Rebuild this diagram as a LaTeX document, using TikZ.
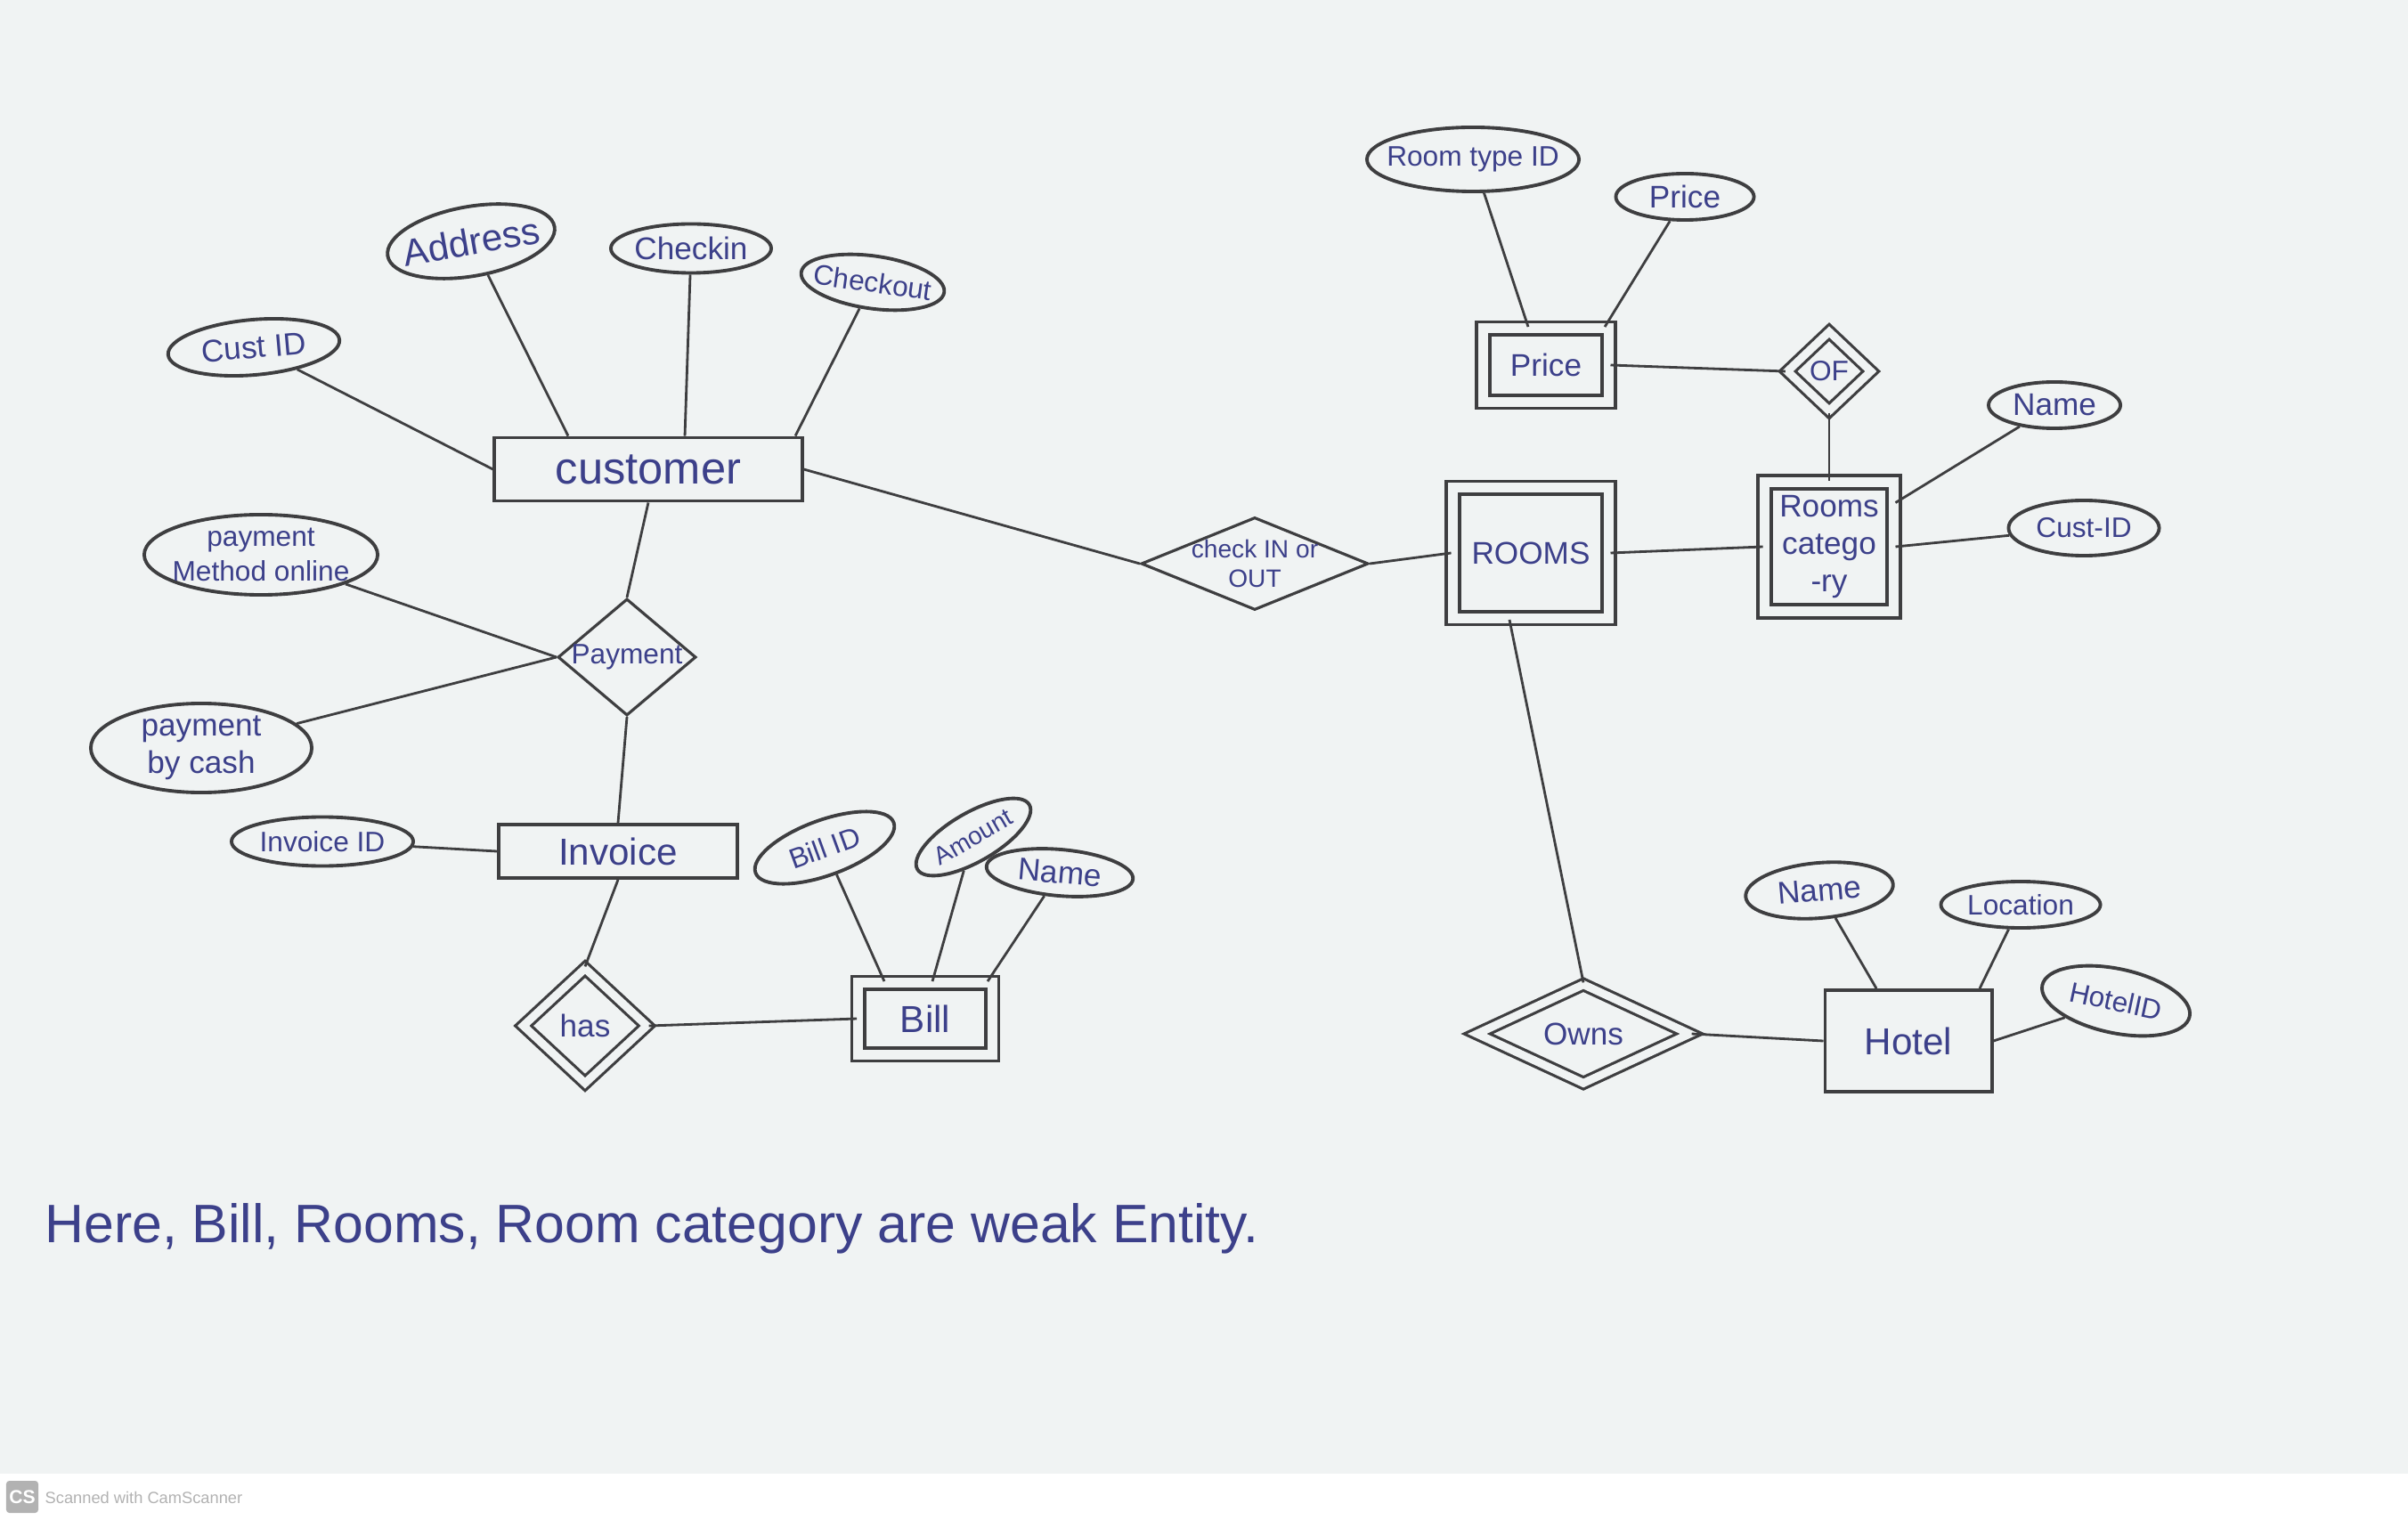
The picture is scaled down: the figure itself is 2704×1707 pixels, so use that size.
\documentclass[tikz,border=0pt]{standalone}
\usepackage{fontspec}
\setmainfont{Liberation Sans}
\usetikzlibrary{shapes.geometric}

\definecolor{paper}{RGB}{240,243,243}
\definecolor{pencil}{RGB}{62,62,64}
\definecolor{ink}{RGB}{60,64,138}
\definecolor{scanner}{RGB}{178,178,178}

\tikzset{
  entity/.style={draw=pencil,line width=1.1pt,rectangle,text=ink,font=\Large,inner sep=0pt,align=center},
  weakentity/.style={entity,double=paper,double distance=0.11cm},
  attr/.style={draw=pencil,line width=1.1pt,ellipse,text=ink,font=\normalsize,inner sep=-1.5cm,align=center},
  rel/.style={draw=pencil,line width=0.9pt,diamond,text=ink,font=\normalsize,inner sep=-2cm,align=center},
  weakrel/.style={rel,double=paper,double distance=0.09cm},
  link/.style={draw=pencil,line width=0.8pt}
}

\begin{document}
\begin{tikzpicture}[x=0.01cm,y=-0.01cm]
\useasboundingbox (0,0) rectangle (2704,1707);
\fill[paper] (0,0) rectangle (2704,1655);

% customer side
\node[entity,minimum width=3.45cm,minimum height=0.71cm] (customer) at (728,527) {customer};
\node[attr,minimum width=1.9cm,minimum height=0.78cm,rotate=10,font=\large] (address) at (529,271) {Address};
\node[attr,minimum width=1.8cm,minimum height=0.55cm] (checkin) at (776,279) {Checkin};
\node[attr,minimum width=1.62cm,minimum height=0.59cm,rotate=-8,font=\small] (checkout) at (980,317) {Checkout};
\node[attr,minimum width=1.93cm,minimum height=0.62cm,rotate=5] (custid) at (285,390) {Cust ID};

\node[rel,minimum width=1.55cm,minimum height=1.31cm,font=\small] (payment) at (704,738) {Payment};
\node[attr,minimum width=2.62cm,minimum height=0.9cm,font=\small] (pmonline) at (293,623) {payment\\Method online};
\node[attr,minimum width=2.48cm,minimum height=1.0cm] (pcash) at (226,840) {payment\\by cash};

\node[entity,minimum width=2.68cm,minimum height=0.6cm,font=\large] (invoice) at (694,956) {Invoice};
\node[attr,minimum width=2.04cm,minimum height=0.55cm,font=\small] (invoiceid) at (362,945) {Invoice ID};

\node[weakrel,minimum width=1.4cm,minimum height=1.3cm] (has) at (657,1152) {has};
\node[weakentity,minimum width=1.5cm,minimum height=0.8cm,font=\large] (bill) at (1039,1144) {Bill};
\node[attr,minimum width=1.65cm,minimum height=0.62cm,rotate=20,font=\small] (billid) at (926,952) {Bill ID};
\node[attr,minimum width=1.45cm,minimum height=0.55cm,rotate=30,font=\footnotesize] (amount) at (1093,940) {Amount};
\node[attr,minimum width=1.65cm,minimum height=0.52cm,rotate=-5] (billname) at (1190,980) {Name};

% rooms side
\node[rel,minimum width=2.55cm,minimum height=1.04cm,font=\footnotesize] (checkinout) at (1409,633) {check IN or\\OUT};
\node[weakentity,minimum width=1.75cm,minimum height=1.46cm,font=\normalsize] (rooms) at (1719,621) {ROOMS};
\node[weakentity,minimum width=1.45cm,minimum height=1.45cm,font=\normalsize] (roomcat) at (2054,614) {Rooms\\catego\\-ry};
\node[attr,minimum width=1.69cm,minimum height=0.62cm,font=\small] (custid2) at (2340,593) {Cust-ID};
\node[attr,minimum width=1.48cm,minimum height=0.52cm] (catname) at (2307,455) {Name};

\node[weakrel,minimum width=0.95cm,minimum height=0.9cm,font=\small] (of) at (2054,417) {OF};
\node[weakentity,minimum width=1.41cm,minimum height=0.82cm,font=\normalsize] (price) at (1736,410) {Price};
\node[attr,minimum width=2.38cm,minimum height=0.72cm,font=\small] (roomtypeid) at (1654,179) {Room type ID};
\node[attr,minimum width=1.55cm,minimum height=0.52cm] (priceattr) at (1892,221) {Price};

\node[weakrel,minimum width=2.4cm,minimum height=1.12cm] (owns) at (1778,1161) {Owns};
\node[entity,minimum width=1.87cm,minimum height=1.14cm,font=\large] (hotel) at (2143,1169) {Hotel};
\node[attr,minimum width=1.66cm,minimum height=0.62cm,rotate=5] (hotelname) at (2043,1000) {Name};
\node[attr,minimum width=1.79cm,minimum height=0.52cm,font=\small] (location) at (2269,1016) {Location};
\node[attr,minimum width=1.69cm,minimum height=0.72cm,rotate=-12,font=\small] (hotelid) at (2376,1124) {HotelID};

% connectors
\draw[link] (custid) -- (customer.west);
\draw[link] (address) -- ([xshift=-0.9cm]customer.north);
\draw[link] (checkin) -- ([xshift=0.41cm]customer.north);
\draw[link] (checkout) -- ([xshift=1.65cm]customer.north);
\draw[link] (customer.east) -- (checkinout.west);
\draw[link] (customer.south) -- (payment.north);
\draw[link] (pmonline) -- (payment.west);
\draw[link] (pcash) -- (payment.west);
\draw[link] (payment.south) -- (invoice.north);
\draw[link] (invoiceid) -- (invoice.west);
\draw[link] (invoice.south) -- (has.north);
\draw[link] (has.east) -- (bill.west);
\draw[link] (billid) -- ([xshift=-0.46cm]bill.north);
\draw[link] (amount) -- ([xshift=0.08cm]bill.north);
\draw[link] (billname) -- ([xshift=0.7cm]bill.north);

\draw[link] (checkinout.east) -- (rooms.west);
\draw[link] (rooms.east) -- (roomcat.west);
\draw[link] (roomcat.east) -- (custid2);
\draw[link] (catname) -- ([yshift=-0.25cm]roomcat.north east);
\draw[link] (of.south) -- (roomcat.north);
\draw[link] (price.east) -- (of.west);
\draw[link] (roomtypeid) -- ([xshift=-0.2cm]price.north);
\draw[link] (priceattr) -- ([xshift=0.66cm]price.north);
\draw[link] ([xshift=-0.24cm]rooms.south) -- (owns.north);
\draw[link] (owns.east) -- (hotel.west);
\draw[link] (hotelname) -- ([xshift=-0.36cm]hotel.north);
\draw[link] (location) -- ([xshift=0.8cm]hotel.north);
\draw[link] (hotelid) -- (hotel.east);

\node[anchor=west,text=ink,font=\LARGE] (note) at (38,1380) {Here, Bill, Rooms, Room category are weak Entity.};

% scanner footer
\fill[white] (0,1655) rectangle (2704,1707);
\node[fill=scanner,text=white,rounded corners=1pt,font=\bfseries\fontsize{6}{6}\selectfont,minimum size=0.36cm,inner sep=0pt] (cslogo) at (25,1681) {CS};
\node[anchor=west,text=scanner,font=\fontsize{5.2}{6}\selectfont,inner sep=0pt] (cstext) at (50,1682) {Scanned with CamScanner};
\end{tikzpicture}
\end{document}
